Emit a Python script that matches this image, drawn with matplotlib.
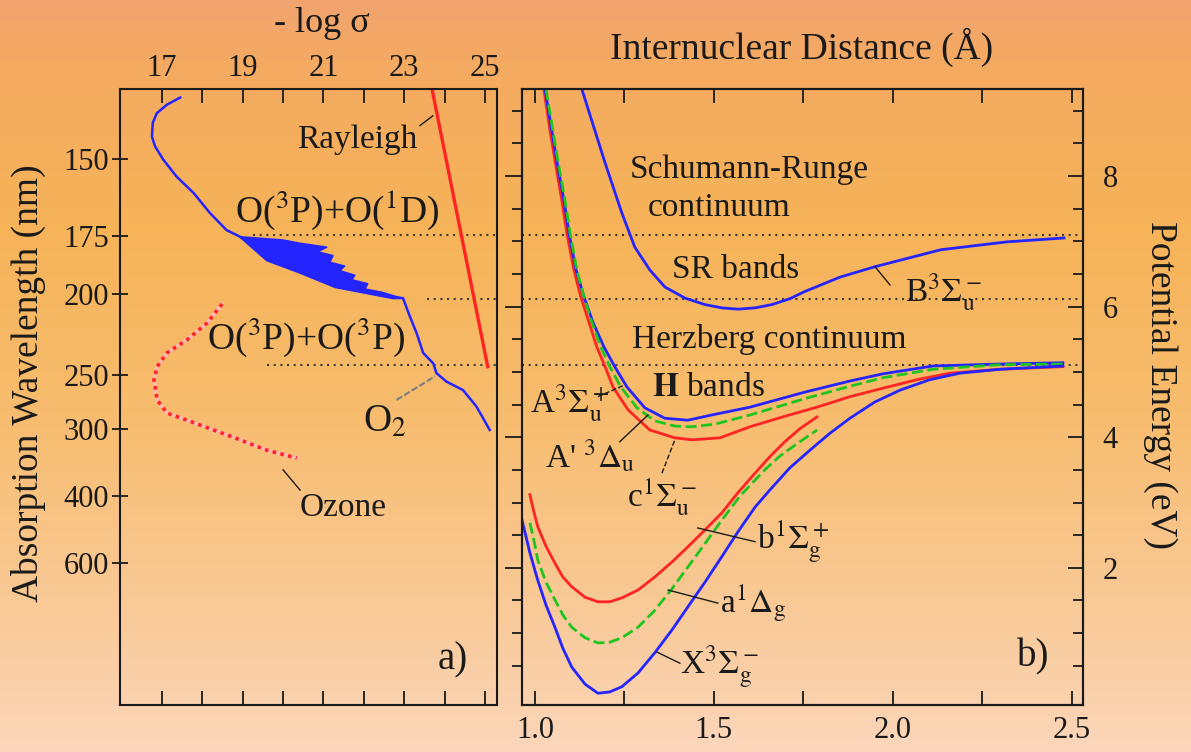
"""O2 absorption cross sections (a) and potential energy curves (b) on a shared energy axis."""

import matplotlib

matplotlib.use("Agg")
import matplotlib.pyplot as plt
import numpy as np

plt.rcParams["font.family"] = ["Liberation Serif", "DejaVu Serif"]
plt.rcParams["mathtext.fontset"] = "stix"

HC = 1239.84  # eV * nm, converts wavelength ticks onto the energy axis

# ---------------- panel a: -log(sigma) against photon energy (eV) ----------------
wl_ticks = [150, 175, 200, 250, 300, 400, 600]
logsig_major = [17, 19, 21, 23, 25]
logsig_minor = [18, 20, 22, 24]

# O2 continuum above the Schumann-Runge bands
o2_top_logsig = [17.45, 17.12, 16.87, 16.77, 16.75, 16.83, 17.03, 17.36, 17.78, 18.19, 18.60, 18.93]
o2_top_energy = [9.20, 9.09, 8.96, 8.81, 8.60, 8.45, 8.25, 7.99, 7.74, 7.43, 7.17, 7.07]

# Schumann-Runge band envelope
sr_left_logsig = [18.93, 19.03, 19.23, 19.60, 20.42, 21.29, 22.72, 22.97]
sr_left_energy = [7.07, 7.02, 6.91, 6.71, 6.52, 6.30, 6.13, 6.13]
sr_right_logsig = [18.93, 20.00, 20.42, 21.09, 20.86, 21.24, 21.16, 21.53, 21.41,
                   21.78, 21.71, 22.10, 22.03, 22.45, 22.77, 22.97]
sr_right_energy = [7.07, 7.02, 6.97, 6.91, 6.84, 6.78, 6.68, 6.62, 6.55,
                   6.48, 6.41, 6.35, 6.27, 6.22, 6.16, 6.13]

# Herzberg continuum below the bands
o2_low_logsig = [22.98, 23.14, 23.31, 23.47, 23.72, 23.80, 24.05, 24.46, 24.79, 25.12]
o2_low_energy = [6.13, 5.85, 5.59, 5.29, 5.13, 4.98, 4.85, 4.72, 4.47, 4.11]

rayleigh_logsig = [23.69, 25.07]
rayleigh_energy = [9.33, 5.08]

ozone_logsig = [18.49, 18.12, 17.62, 17.12, 16.88, 16.80, 16.88, 17.12, 17.62, 18.76, 19.60, 20.34]
ozone_energy = [6.04, 5.75, 5.49, 5.29, 5.08, 4.88, 4.57, 4.37, 4.26, 4.00, 3.80, 3.68]

# dissociation limits / band origin (eV) and where their dotted line starts in panel a
limit_energy = [7.10, 6.12, 5.10]
limit_start_logsig = [19.25, 23.56, 19.60]

# ---------------- panel b: potential curves, R (Angstrom) vs E (eV) ----------------
B_r = [1.131, 1.196, 1.243, 1.279, 1.321, 1.363, 1.419, 1.475, 1.522, 1.567, 1.615,
       1.662, 1.712, 1.754, 1.852, 1.950, 2.134, 2.318, 2.478]
B_e = [9.33, 8.20, 7.43, 6.91, 6.56, 6.30, 6.13, 6.03, 5.98, 5.96, 5.98,
       6.03, 6.12, 6.23, 6.45, 6.61, 6.87, 6.99, 7.05]

A_r = [1.028, 1.047, 1.064, 1.081, 1.095, 1.115, 1.137, 1.162, 1.193, 1.223, 1.257,
       1.307, 1.363, 1.427, 1.494, 1.601, 1.754, 1.880, 1.972, 2.112, 2.299, 2.475]
A_e = [9.33, 8.70, 8.14, 7.63, 7.13, 6.56, 6.15, 5.76, 5.38, 5.08, 4.77,
       4.45, 4.29, 4.26, 4.34, 4.46, 4.69, 4.86, 4.97, 5.09, 5.12, 5.14]

Ap_r = [1.031, 1.050, 1.067, 1.084, 1.098, 1.117, 1.137, 1.159, 1.184, 1.209, 1.240,
        1.285, 1.335, 1.391, 1.439, 1.503, 1.601, 1.754, 1.880, 1.972, 2.112, 2.299, 2.475]
Ap_e = [9.33, 8.70, 8.14, 7.63, 7.13, 6.56, 6.15, 5.76, 5.38, 5.08, 4.77,
        4.45, 4.25, 4.17, 4.16, 4.20, 4.34, 4.59, 4.78, 4.91, 5.04, 5.11, 5.12]

c_r = [1.025, 1.042, 1.059, 1.075, 1.089, 1.109, 1.128, 1.151, 1.173, 1.196, 1.218,
       1.260, 1.321, 1.391, 1.439, 1.517, 1.601, 1.698, 1.788, 1.880, 1.972, 2.067,
       2.159, 2.299, 2.475]
c_e = [9.33, 8.70, 8.14, 7.63, 7.13, 6.56, 6.15, 5.76, 5.38, 5.08, 4.77,
       4.42, 4.11, 3.99, 3.96, 3.99, 4.16, 4.32, 4.46, 4.62, 4.75, 4.88,
       4.98, 5.04, 5.08]

b_r = [0.986, 0.997, 1.008, 1.031, 1.056, 1.078, 1.103, 1.140, 1.176, 1.209, 1.243,
       1.288, 1.335, 1.383, 1.427, 1.475, 1.522, 1.567, 1.615, 1.656, 1.698, 1.740, 1.788]
b_e = [3.12, 2.86, 2.63, 2.33, 2.07, 1.86, 1.71, 1.55, 1.48, 1.48, 1.54,
       1.66, 1.86, 2.09, 2.32, 2.58, 2.84, 3.15, 3.45, 3.70, 3.93, 4.13, 4.31]

a_r = [0.986, 0.997, 1.008, 1.031, 1.056, 1.078, 1.103, 1.140, 1.176, 1.209, 1.243,
       1.288, 1.335, 1.383, 1.427, 1.475, 1.522, 1.573, 1.642, 1.684, 1.740, 1.788]
a_e = [2.69, 2.43, 2.12, 1.78, 1.51, 1.28, 1.09, 0.93, 0.85, 0.86, 0.93,
       1.09, 1.35, 1.68, 2.01, 2.37, 2.73, 3.10, 3.50, 3.71, 3.93, 4.11]

X_r = [0.964, 0.986, 1.008, 1.031, 1.056, 1.078, 1.103, 1.140, 1.176, 1.209, 1.243,
       1.288, 1.335, 1.383, 1.427, 1.475, 1.522, 1.567, 1.615, 1.656, 1.712, 1.768,
       1.824, 1.880, 1.950, 2.020, 2.103, 2.187, 2.299, 2.475]
X_e = [2.73, 2.23, 1.81, 1.43, 1.09, 0.77, 0.48, 0.22, 0.08, 0.10, 0.18,
       0.39, 0.70, 1.05, 1.40, 1.78, 2.17, 2.55, 2.93, 3.19, 3.53, 3.80,
       4.06, 4.29, 4.54, 4.72, 4.88, 4.98, 5.04, 5.09]

E_LIM = (-0.10, 9.33)
BLUE = "#2424ff"
RED = "#ff2424"
GREEN = "#1fc41f"
DOT = "#3c3c3c"
INK = "#1a1a1a"

fig = plt.figure(figsize=(11.91, 7.52), dpi=100)

# orange-to-peach backdrop
bg = fig.add_axes([0, 0, 1, 1], zorder=-10)
stops = [0.0, 0.08, 0.30, 0.55, 0.80, 1.0]
cols = np.array([[241, 164, 112], [244, 170, 98], [246, 179, 88],
                 [247, 188, 110], [249, 201, 150], [251, 214, 186]]) / 255.0
t = np.linspace(0, 1, 400)
grad = np.stack([np.interp(t, stops, cols[:, i]) for i in range(3)], axis=-1)[:, None, :]
bg.imshow(grad, aspect="auto", extent=[0, 1, 0, 1])
bg.set_axis_off()

ax_a = fig.add_axes([0.1008, 0.0625, 0.3165, 0.8191])
ax_b = fig.add_axes([0.4383, 0.0625, 0.4710, 0.8191])
for ax in (ax_a, ax_b):
    ax.set_facecolor("none")
    for sp in ax.spines.values():
        sp.set_linewidth(1.5)
        sp.set_color(INK)

# ---- panel a
ax_a.set_xlim(15.96, 25.30)
ax_a.set_ylim(*E_LIM)
for e, x0 in zip(limit_energy, limit_start_logsig):
    ax_a.plot([x0, 25.30], [e, e], color=DOT, lw=1.5, ls=(0, (1, 2.2)))

sr_poly_x = sr_left_logsig + sr_right_logsig[::-1]
sr_poly_y = sr_left_energy + sr_right_energy[::-1]
ax_a.fill(sr_poly_x, sr_poly_y, color=BLUE, lw=1.0, ec=BLUE)
o2_x = o2_top_logsig + sr_left_logsig[1:] + o2_low_logsig[1:]
o2_y = o2_top_energy + sr_left_energy[1:] + o2_low_energy[1:]
ax_a.plot(o2_x, o2_y, color=BLUE, lw=1.8)
ax_a.plot(rayleigh_logsig, rayleigh_energy, color=RED, lw=2.4)
ax_a.plot(ozone_logsig, ozone_energy, color="#ffb8b0", lw=2.6)
ax_a.plot(ozone_logsig, ozone_energy, color=RED, lw=2.6, ls=(0, (1, 1.2)))

# leader lines
ax_a.plot([23.39, 23.71], [8.77, 8.92], color=INK, lw=1.0)
ax_a.plot([22.81, 23.76], [4.57, 4.93], color="#808080", lw=1.6, ls=(0, (3, 1)))
ax_a.plot([20.00, 20.42], [3.50, 3.19], color=INK, lw=1.0)

ax_a.text(21.83, 8.55, "Rayleigh", fontsize=24, ha="center", va="center", color=INK)
ax_a.text(21.33, 7.48, r"O($^3$P)+O($^1$D)", fontsize=27, ha="center", va="center", color=INK)
ax_a.text(20.57, 5.53, r"O($^3$P)+O($^3$P)", fontsize=27, ha="center", va="center", color=INK)
ax_a.text(21.98, 4.08, r"O$_2$", fontsize=28, ha="left", va="baseline", color=INK)
ax_a.text(21.48, 2.92, "Ozone", fontsize=24, ha="center", va="center", color=INK)
ax_a.text(24.21, 0.59, "a)", fontsize=28, ha="center", va="center", color=INK)

ax_a.set_xticks(logsig_major)
ax_a.set_xticks(logsig_minor, minor=True)
ax_a.tick_params(axis="x", which="both", direction="in", length=10, width=1.3,
                 top=True, bottom=True, labeltop=True, labelbottom=False,
                 labelsize=22, pad=4, colors=INK)
ax_a.set_yticks([HC / w for w in wl_ticks])
ax_a.set_yticklabels([str(w) for w in wl_ticks])
ax_a.tick_params(axis="y", direction="inout", length=12, width=1.3,
                 right=False, labelsize=22, pad=2, colors=INK)

# ---- panel b
ax_b.set_xlim(0.964, 2.531)
ax_b.set_ylim(*E_LIM)
for e in limit_energy:
    ax_b.axhline(e, color=DOT, lw=1.5, ls=(0, (1, 2.2)))

ax_b.plot(B_r, B_e, color=BLUE, lw=2.0)
ax_b.plot(c_r, c_e, color=RED, lw=2.0)
ax_b.plot(A_r, A_e, color=BLUE, lw=2.0)
ax_b.plot(Ap_r, Ap_e, color=GREEN, lw=2.0, ls=(0, (4, 1.6)))
ax_b.plot(b_r, b_e, color=RED, lw=2.0)
ax_b.plot(X_r, X_e, color=BLUE, lw=2.0)
ax_b.plot(a_r, a_e, color=GREEN, lw=2.0, ls=(0, (4, 1.6)))

leaders_b = [
    ([1.950, 1.992], [6.61, 6.33], "-"),
    ([1.176, 1.251], [4.62, 4.80], "--"),
    ([1.237, 1.316], [3.93, 4.34], "-"),
    ([1.355, 1.391], [3.45, 3.96], "--"),
    ([1.455, 1.615], [2.61, 2.40], "-"),
    ([1.372, 1.511], [1.66, 1.46], "-"),
    ([1.341, 1.405], [0.71, 0.54], "-"),
]
for xs, ys, ls in leaders_b:
    ax_b.plot(xs, ys, color=INK, lw=1.0, ls=ls)

txt = dict(fontsize=24, color=INK)
ax_b.text(1.60, 8.09, "Schumann-Runge", ha="center", va="center", **txt)
ax_b.text(1.514, 7.51, "continuum", ha="center", va="center", **txt)
ax_b.text(1.561, 6.56, "SR bands", ha="center", va="center", **txt)
ax_b.text(2.034, 6.22, r"B$^3\Sigma_\mathrm{u}^-$", ha="left", va="center", **txt)
ax_b.text(1.271, 5.49, "Herzberg continuum", ha="left", va="center", **txt)
ax_b.text(1.327, 4.75, r"$\mathbf{H}$ bands", ha="left", va="center", **txt)
ax_b.text(0.986, 4.52, r"A$^3\Sigma_\mathrm{u}^+$", ha="left", va="center", **txt)
ax_b.text(1.028, 3.70, r"A' $^3\Delta_\mathrm{u}$", ha="left", va="center", **txt)
ax_b.text(1.257, 3.08, r"c$^1\Sigma_\mathrm{u}^-$", ha="left", va="center", **txt)
ax_b.text(1.620, 2.40, r"b$^1\Sigma_\mathrm{g}^+$", ha="left", va="center", **txt)
ax_b.text(1.517, 1.46, r"a$^1\Delta_\mathrm{g}$", ha="left", va="center", **txt)
ax_b.text(1.405, 0.48, r"X$^3\Sigma_\mathrm{g}^-$", ha="left", va="center", **txt)
ax_b.text(2.391, 0.63, "b)", fontsize=28, ha="center", va="center", color=INK)

ax_b.set_xticks([1.0, 1.5, 2.0, 2.5])
ax_b.set_xticks([1.25, 1.75, 2.25], minor=True)
ax_b.xaxis.set_major_formatter(plt.FormatStrFormatter("%.1f"))
ax_b.tick_params(axis="x", which="both", direction="in", length=10, width=1.3,
                 top=True, bottom=True, labelsize=22, pad=8, colors=INK)
energy_major = [2, 4, 6, 8]
energy_minor = [v for v in np.arange(0.5, 9.01, 0.5) if v not in energy_major]
ax_b.set_yticks(energy_major)
ax_b.set_yticks(energy_minor, minor=True)
ax_b.tick_params(axis="y", which="major", direction="out", length=12, width=1.3,
                 labelleft=False, right=False, colors=INK)
ax_b.tick_params(axis="y", which="minor", direction="out", length=7, width=1.3,
                 right=False, colors=INK)

ax_r = ax_b.twinx()
ax_r.set_ylim(*E_LIM)
ax_r.set_yticks(energy_major)
ax_r.set_yticks(energy_minor, minor=True)
ax_r.tick_params(axis="y", which="major", direction="in", length=11, width=1.3,
                 labelsize=22, pad=14, colors=INK)
ax_r.tick_params(axis="y", which="minor", direction="in", length=7, width=1.3, colors=INK)
for sp in ax_r.spines.values():
    sp.set_linewidth(1.5)
    sp.set_color(INK)

fig.text(0.2704, 0.9694, "- log σ", fontsize=26, ha="center", va="center", color=INK)
fig.text(0.0235, 0.491, "Absorption Wavelength (nm)", fontsize=27, rotation=90,
         ha="center", va="center", color=INK)
fig.text(0.6734, 0.9375, "Internuclear Distance (Å)", fontsize=27,
         ha="center", va="center", color=INK)
fig.text(0.974, 0.488, "Potential Energy (eV)", fontsize=27, rotation=270,
         ha="center", va="center", color=INK)

fig.savefig("out.png", dpi=100)
